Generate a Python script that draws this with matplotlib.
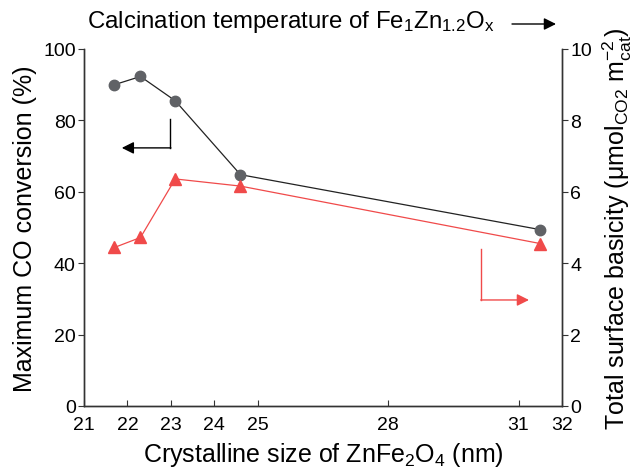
import matplotlib
matplotlib.use('Agg')
import matplotlib.pyplot as plt

plt.rcParams['font.family'] = ['Liberation Sans', 'DejaVu Sans']
plt.rcParams['mathtext.fontset'] = 'custom'
plt.rcParams['mathtext.rm'] = 'Liberation Sans'
plt.rcParams['mathtext.it'] = 'Liberation Sans:italic'
plt.rcParams['mathtext.bf'] = 'Liberation Sans:bold'

# data
crystal_size = [21.7, 22.3, 23.1, 24.6, 31.5]
co_conversion = [90.0, 92.3, 85.5, 64.8, 49.4]
basicity = [4.44, 4.72, 6.36, 6.16, 4.55]

x_ticks = [21, 22, 23, 24, 25, 28, 31, 32]
left_ticks = [0, 20, 40, 60, 80, 100]
right_ticks = [0, 2, 4, 6, 8, 10]

gray = '#606266'
red = '#f04a4a'

fig = plt.figure(figsize=(6.35, 4.77), dpi=100)
ax = fig.add_axes([84/635, 1 - 407/477, (562-84)/635, (407-50)/477])
ax2 = ax.twinx()

ax.plot(crystal_size, co_conversion, color='#222222', lw=0.9, zorder=2)
ax.plot(crystal_size, co_conversion, 'o', color=gray, ms=7.5, mec=gray, zorder=3)
ax2.plot(crystal_size, basicity, color=red, lw=0.9, zorder=2)
ax2.plot(crystal_size, basicity, '^', color=red, ms=9, mec=red, zorder=3)

ax.set_xlim(21, 32)
ax.set_ylim(0, 100)
ax2.set_ylim(0, 10)
ax.set_xticks(x_ticks)
ax.set_yticks(left_ticks)
ax2.set_yticks(right_ticks)

for a in (ax, ax2):
    a.spines['top'].set_visible(False)
    for s in a.spines.values():
        s.set_linewidth(1.0)
        s.set_color('#333333')
ax.tick_params(axis='x', direction='in', length=4, labelsize=14, pad=7, color='#333333')
ax.tick_params(axis='y', direction='out', length=4, labelsize=14, pad=2, color='#333333')
ax2.tick_params(axis='y', direction='out', length=4, labelsize=14, pad=2, color='#333333')

ax.set_xlabel('Crystalline size of ZnFe$_2$O$_4$ (nm)', fontsize=18, labelpad=5)
ax.set_ylabel('Maximum CO conversion (%)', fontsize=18, labelpad=4)
ax2.set_ylabel('Total surface basicity (μmol$_{\\mathrm{CO2}}$ m$_{\\mathrm{cat}}^{-2}$)',
               fontsize=18, labelpad=6)

# L-shaped arrows pointing to each axis
ax.plot([22.99, 22.99], [80.3, 72.3], color='black', lw=1.0)
ax.annotate('', xy=(21.87, 72.3), xytext=(23.0, 72.3),
            arrowprops=dict(arrowstyle='-|>', color='black', lw=1.0, mutation_scale=18,
                            shrinkA=0, shrinkB=0))
ax.plot([30.14, 30.14], [43.9, 29.7], color=red, lw=1.0)
ax.annotate('', xy=(31.24, 29.7), xytext=(30.13, 29.7),
            arrowprops=dict(arrowstyle='-|>', color=red, lw=1.0, mutation_scale=18,
                            shrinkA=0, shrinkB=0))

# top caption with arrow
fig.text(87/635, 1 - 22/477, 'Calcination temperature of Fe$_1$Zn$_{1.2}$O$_{\\mathrm{x}}$',
         fontsize=17.3, va='center', ha='left')
fig.patches.append(matplotlib.patches.FancyArrowPatch(
    (512/635, 1 - 25/477), (556/635, 1 - 25/477), transform=fig.transFigure,
    arrowstyle='-|>', mutation_scale=18, color='black', lw=1.0, shrinkA=0, shrinkB=0))

fig.savefig('out.png', dpi=100)
